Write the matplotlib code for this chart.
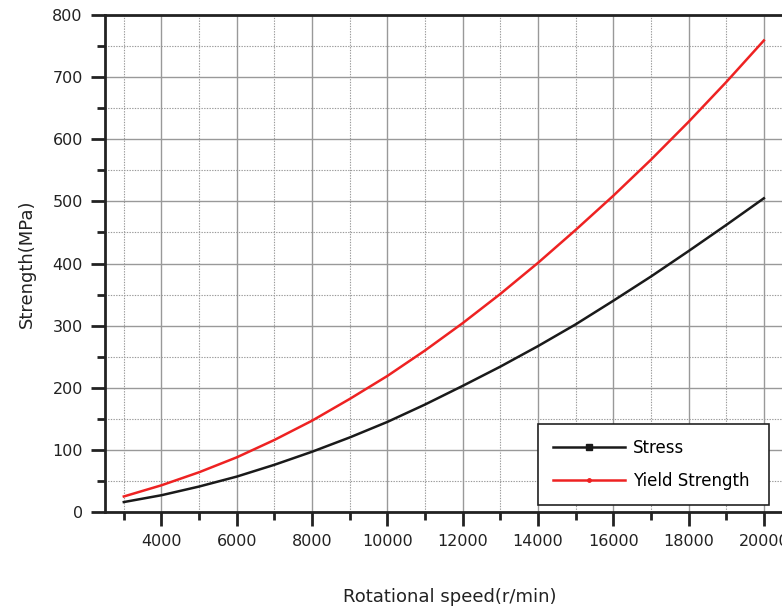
import numpy as np
import matplotlib.pyplot as plt
from matplotlib.lines import Line2D
from matplotlib.ticker import MultipleLocator

# Data
speed = [3000, 4000, 5000, 6000, 7000, 8000, 9000, 10000, 11000, 12000,
         13000, 14000, 15000, 16000, 17000, 18000, 19000, 20000]
stress = [16, 27, 41, 57, 76, 97, 120, 145, 173, 203,
          234, 267, 302, 340, 379, 420, 462, 505]
yield_strength = [25, 43, 64, 88, 116, 147, 182, 219, 260, 304,
                  351, 401, 454, 509, 567, 628, 692, 759]

W, H = 782, 609
fig = plt.figure(figsize=(W / 100, H / 100), dpi=100)

# axes box in pixels (right edge runs past the figure, as in the cropped reference)
left, right, top, bottom = 105, 800, 15, 512
ax = fig.add_axes([left / W, 1 - bottom / H, (right - left) / W, (bottom - top) / H])

ax.plot(speed, stress, color='#1a1a1a', lw=1.8, zorder=3)
ax.plot(speed, yield_strength, color='#ee2222', lw=1.8, zorder=3)

ax.set_xlim(2500, 2500 + (right - left) / 75.3 * 2000)
ax.set_ylim(0, 800)

ax.xaxis.set_major_locator(MultipleLocator(2000))
ax.xaxis.set_minor_locator(MultipleLocator(1000))
ax.yaxis.set_major_locator(MultipleLocator(100))
ax.yaxis.set_minor_locator(MultipleLocator(50))
ax.set_xticks([4000, 6000, 8000, 10000, 12000, 14000, 16000, 18000, 20000])

ax.grid(which='major', color='#999999', lw=1.0, ls='-')
ax.grid(which='minor', color='#999999', lw=0.8, ls=(0, (1.2, 1.2)))
ax.set_axisbelow(True)

for s in ['left', 'bottom', 'top']:
    ax.spines[s].set_linewidth(2)
    ax.spines[s].set_color('#222222')
ax.spines['right'].set_visible(False)

ax.tick_params(which='major', direction='out', length=10, width=2, color='#222222',
               labelsize=11.5, labelcolor='#222222', pad=6)
ax.tick_params(which='minor', direction='out', length=6, width=2, color='#222222')
ax.tick_params(axis='x', which='both', top=False)

ax.set_ylabel('Strength(MPa)', fontsize=13, color='#222222', labelpad=12)
fig.text(450 / W, 1 - 597 / H, 'Rotational speed(r/min)', fontsize=13,
         color='#222222', ha='center', va='center')

handles = [Line2D([], [], color='#1a1a1a', lw=1.8, marker='s', markersize=4),
           Line2D([], [], color='#ee2222', lw=1.8, marker='o', markersize=2.5)]
leg = ax.legend(handles, ['Stress', 'Yield Strength'], loc='lower left',
                bbox_to_anchor=((538 - left) / (right - left), (512 - 505) / (bottom - top),
                                (769 - 538) / (right - left), (505 - 431) / (bottom - top)),
                mode='expand', borderaxespad=0, fancybox=False, framealpha=1,
                edgecolor='#222222', fontsize=12, handlelength=4.3, borderpad=0.9,
                labelspacing=0.9, handletextpad=0.5)
leg.get_frame().set_linewidth(1.2)

fig.savefig('out.png', dpi=100)
